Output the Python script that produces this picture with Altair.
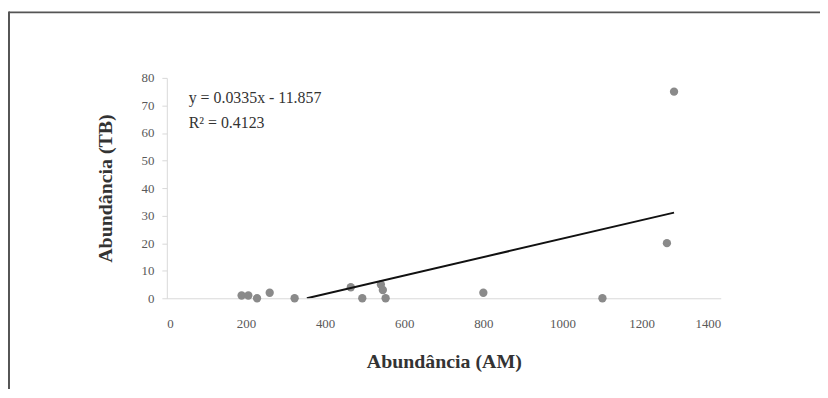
import altair as alt
import pandas as pd

# data
am = [189, 206, 228, 260, 323, 465, 494, 541, 546, 553, 800, 1101, 1264, 1282]
tb = [1, 1, 0, 2, 0, 4, 0, 5, 3, 0, 2, 0, 20, 75]
slope = 0.0335
intercept = -11.857
eq_line1 = "y = 0.0335x - 11.857"
eq_line2 = "R² = 0.4123"
x_ticks = [0, 200, 400, 600, 800, 1000, 1200, 1400]
y_ticks = [0, 10, 20, 30, 40, 50, 60, 70, 80]

pts = pd.DataFrame({"AM": am, "TB": tb})
x0 = -intercept / slope
x1 = max(am)
trend = pd.DataFrame({"AM": [x0, x1], "TB": [slope * x0 + intercept, slope * x1 + intercept]})
one = pd.DataFrame({"k": [0]})

FONT = "Liberation Serif"
W, H = 558, 222

xs = alt.Scale(domain=[0, 1400], nice=False)
ys = alt.Scale(domain=[0, 80], nice=False)

xax = alt.Axis(values=x_ticks, format="d", title="Abundância (AM)", grid=False, ticks=False,
               labelOverlap=False,
               domainColor="#d9d9d9", labelPadding=19, titlePadding=22,
               labelFont=FONT, labelFontSize=13, labelColor="#595959",
               titleFont=FONT, titleFontSize=20, titleFontWeight="bold", titleColor="#333333")
yax = alt.Axis(values=y_ticks, format="d", title="Abundância (TB)", grid=False, ticks=True, tickSize=5,
               labelOverlap=False,
               tickColor="#d9d9d9", domainColor="#d9d9d9", labelPadding=8, titlePadding=26,
               labelFont=FONT, labelFontSize=13, labelColor="#595959",
               titleFont=FONT, titleFontSize=20, titleFontWeight="bold", titleColor="#333333")

points = alt.Chart(pts).mark_circle(size=70, color="#8a8a8a", opacity=1).encode(
    x=alt.X("AM:Q", scale=xs, axis=xax),
    y=alt.Y("TB:Q", scale=ys, axis=yax),
)

line = alt.Chart(trend).mark_line(color="#111111", strokeWidth=2, clip=True).encode(
    x=alt.X("AM:Q", scale=xs, axis=xax), y=alt.Y("TB:Q", scale=ys, axis=yax)
)

def eq_text(s, ypx):
    return alt.Chart(one).mark_text(align="left", baseline="middle", font=FONT, fontSize=16,
                                    color="#333333", text=s).encode(
        x=alt.value(22), y=alt.value(ypx)
    )

frame_top = alt.Chart(one).mark_rule(color="#555555", strokeWidth=2).encode(
    x=alt.value(-159), x2=alt.value(660), y=alt.value(-66)
)
frame_left = alt.Chart(one).mark_rule(color="#555555", strokeWidth=2).encode(
    x=alt.value(-159), y=alt.value(-67), y2=alt.value(320)
)

chart = alt.layer(frame_top, frame_left, points, line,
                  eq_text(eq_line1, 20), eq_text(eq_line2, 45)).properties(
    width=W, height=H,
    autosize=alt.AutoSizeParams(type="none"),
    padding={"left": 160, "top": 69, "right": 100, "bottom": 90},
).configure_view(stroke=None).configure_axis(labelOverlap=False, tickCount=10)

chart.save("out.html", embed_options={"renderer": "svg", "actions": False})
